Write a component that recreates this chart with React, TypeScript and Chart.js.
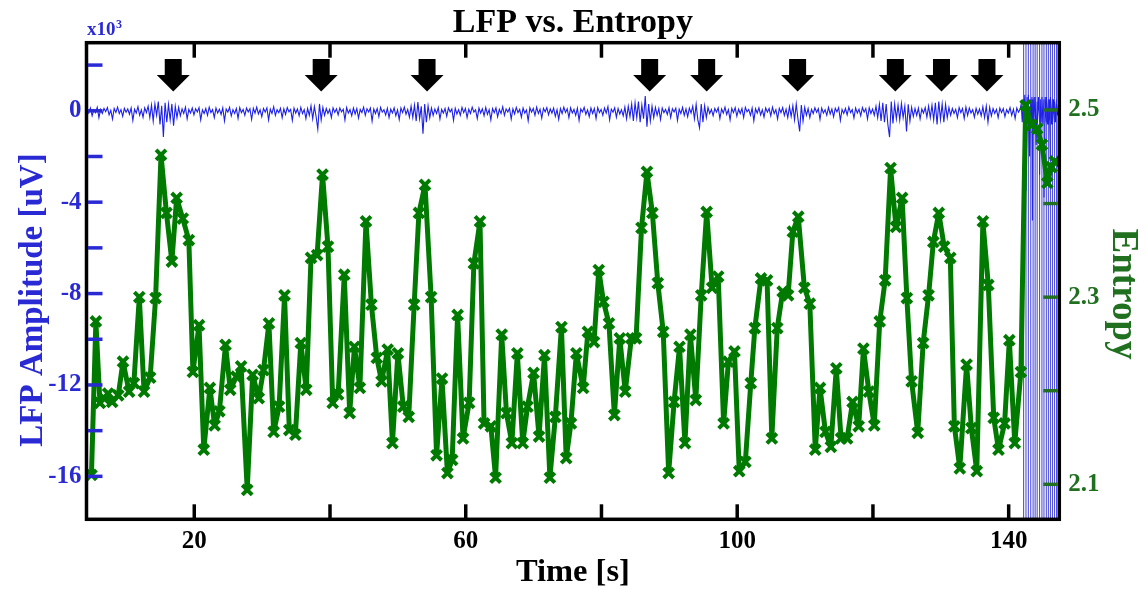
import React, { useEffect, useRef } from 'react';
import { Chart, registerables } from 'chart.js';

Chart.register(...registerables);

const FONT = "'Liberation Serif', 'Times New Roman', serif";
const BLUE = 'rgb(28,32,232)';
const BLUE_FAINT = 'rgba(50,50,210,0.85)';
const BLUE_TEXT = 'rgb(42,42,212)';
const GREEN = 'rgb(0,122,0)';
const GREEN_TEXT = 'rgb(32,112,32)';

// Axis ticks / labels
const X_TICKS = [20, 40, 60, 80, 100, 120, 140];
const X_LABELS = [20, 60, 100, 140];
const LFP_TICKS = [-16, -14, -12, -10, -8, -6, -4, -2, 0, 2];
const LFP_LABELS = [-16, -12, -8, -4, 0];
const ENT_TICKS = [2.1, 2.2, 2.3, 2.4, 2.5];
const ENT_LABELS = [2.1, 2.3, 2.5];

// Event arrows (time, s)
const ARROW_T = [16.9, 38.7, 54.3, 87.1, 95.5, 108.9, 123.3, 130.1, 136.8];

// Entropy series
const ENTROPY_T = [
  4.85, 5.5, 6.1, 6.7, 7.3, 7.9, 8.8, 9.5, 10.4, 11.1, 11.9, 12.6, 13.5, 14.3, 15.1, 15.9, 16.7, 17.4, 18.3, 19.2,
  19.8, 20.7, 21.4, 22.3, 23.0, 23.7, 24.6, 25.3, 26.2, 26.9, 27.8, 28.6, 29.5, 30.2, 31.0, 31.7, 32.5, 33.3, 34.0, 34.9,
  35.7, 36.5, 37.2, 38.1, 38.9, 39.7, 40.4, 41.2, 42.1, 42.9, 43.6, 44.4, 45.3, 46.1, 46.9, 47.6, 48.5, 49.2, 50.0, 50.8,
  51.6, 52.4, 53.1, 54.0, 54.9, 55.7, 56.5, 57.3, 58.0, 58.8, 59.6, 60.5, 61.2, 62.1, 62.7, 63.7, 64.4, 65.3, 66.0, 66.8,
  67.6, 68.4, 69.1, 70.0, 70.8, 71.6, 72.4, 73.2, 74.1, 74.8, 75.5, 76.3, 77.3, 78.0, 78.9, 79.6, 80.3, 81.1, 81.9, 82.7,
  83.5, 84.4, 85.1, 85.9, 86.7, 87.5, 88.3, 89.1, 89.9, 90.7, 91.5, 92.3, 93.1, 93.9, 94.7, 95.5, 96.3, 97.2, 98.0, 98.7,
  99.6, 100.3, 101.2, 102.0, 102.6, 103.5, 104.4, 105.1, 105.9, 106.7, 107.5, 108.2, 109.0, 109.9, 110.7, 111.5, 112.2, 113.0, 113.8, 114.6,
  115.3, 116.2, 117.0, 117.9, 118.6, 119.4, 120.2, 121.0, 121.8, 122.6, 123.4, 124.3, 125.0, 125.7, 126.6, 127.4, 128.2, 128.9, 129.7, 130.5,
  131.4, 132.0, 132.8, 133.8, 134.5, 135.3, 136.2, 137.0, 137.8, 138.5, 139.4, 140.1, 140.9, 141.8, 142.5, 143.4, 144.2, 144.9, 145.7, 146.3,
  146.8,
];
const ENTROPY_V = [
  2.110, 2.274, 2.187, 2.192, 2.197, 2.188, 2.195, 2.231, 2.199, 2.208, 2.300, 2.199, 2.214, 2.299, 2.452, 2.390, 2.338, 2.406, 2.384, 2.361,
  2.220, 2.270, 2.137, 2.203, 2.163, 2.178, 2.249, 2.201, 2.215, 2.226, 2.094, 2.217, 2.192, 2.222, 2.272, 2.156, 2.183, 2.302, 2.158, 2.153,
  2.251, 2.201, 2.342, 2.345, 2.431, 2.354, 2.187, 2.196, 2.324, 2.176, 2.247, 2.203, 2.381, 2.292, 2.235, 2.210, 2.244, 2.144, 2.240, 2.183,
  2.172, 2.292, 2.390, 2.420, 2.300, 2.131, 2.213, 2.112, 2.126, 2.281, 2.149, 2.187, 2.336, 2.381, 2.165, 2.162, 2.107, 2.260, 2.176, 2.144,
  2.240, 2.144, 2.183, 2.219, 2.151, 2.238, 2.107, 2.172, 2.268, 2.128, 2.165, 2.240, 2.203, 2.263, 2.252, 2.329, 2.295, 2.272, 2.174, 2.256,
  2.199, 2.256, 2.256, 2.374, 2.434, 2.390, 2.315, 2.263, 2.112, 2.188, 2.247, 2.144, 2.260, 2.190, 2.302, 2.391, 2.310, 2.322, 2.165, 2.231,
  2.242, 2.114, 2.124, 2.208, 2.267, 2.320, 2.318, 2.149, 2.267, 2.306, 2.302, 2.370, 2.386, 2.310, 2.293, 2.137, 2.203, 2.156, 2.140, 2.224,
  2.149, 2.149, 2.188, 2.162, 2.245, 2.199, 2.163, 2.274, 2.318, 2.438, 2.375, 2.406, 2.299, 2.210, 2.155, 2.251, 2.302, 2.359, 2.390, 2.354,
  2.342, 2.162, 2.117, 2.228, 2.160, 2.114, 2.381, 2.313, 2.171, 2.137, 2.165, 2.254, 2.144, 2.220, 2.505, 2.484, 2.480, 2.463, 2.422, 2.439,
  2.445,
];

// LFP trace (x10^3 uV), sampled every LFP_DT seconds from LFP_T0
const LFP_T0 = 4.2;
const LFP_DT = 0.25;
const LFP_V = [
  0.05, -0.1, 0.12, -0.22, 0.04, -0.08, 0.15, -0.3, 0.06, -0.12, 0.1, -0.04, 0.14, -0.18, 0.02, -0.36, 0.1, -0.07, 0.16, -0.12, 0.05, -0.24, 0.11, -0.06, 0.08,
  -0.15, 0.12, -0.42, 0.07, -0.1, 0.18, -0.2, 0.04, -0.28, 0.13, -0.08, 0.2, -0.3, 0.25, -0.45, 0.3, -0.2, 0.4, -0.6, 0.22, -1.15, 0.35, -0.5, 0.28, -0.4,
  0.3, -0.65, 0.2, -0.3, 0.15, -0.22, 0.08, -0.12, 0.16, -0.35, 0.06, -0.1, 0.12, -0.18, 0.09, -0.05, 0.14, -0.4, 0.04, -0.12, 0.1, -0.2, 0.16, -0.08, 0.05,
  -0.3, 0.12, -0.1, 0.07, -0.16, 0.13, -0.44, 0.08, -0.06, 0.15, -0.22, 0.05, -0.12, 0.1, -0.33, 0.14, -0.08, 0.06, -0.2, 0.12, -0.05, 0.09, -0.38, 0.11, -0.1,
  0.16, -0.14, 0.04, -0.26, 0.1, -0.06, 0.13, -0.4, 0.07, -0.12, 0.18, -0.2, 0.05, -0.08, 0.11, -0.3, 0.09, -0.16, 0.14, -0.05, 0.06, -0.42, 0.12, -0.1, 0.08,
  -0.22, 0.15, -0.12, 0.05, -0.34, 0.1, -0.2, 0.22, -0.35, 0.18, -0.25, -0.8, 0.3, -0.4, 0.15, -0.2, 0.1, -0.12, 0.06, -0.3, 0.13, -0.07, 0.09, -0.18, 0.12,
  -0.05, 0.07, -0.4, 0.14, -0.1, 0.05, -0.22, 0.12, -0.14, 0.1, -0.32, 0.06, -0.08, 0.16, -0.2, 0.09, -0.05, 0.12, -0.45, 0.08, -0.12, 0.1, -0.26, 0.15, -0.06,
  0.05, -0.18, 0.11, -0.3, 0.07, -0.1, 0.13, -0.22, 0.04, -0.38, 0.12, -0.08, 0.16, -0.15, 0.06, -0.28, 0.2, -0.3, 0.25, -0.45, 0.38, -0.35, 0.2, -1.0, 0.3,
  -0.5, 0.22, -0.3, 0.12, -0.2, 0.08, -0.12, 0.14, -0.36, 0.06, -0.1, 0.1, -0.24, 0.13, -0.05, 0.08, -0.42, 0.11, -0.14, 0.05, -0.2, 0.15, -0.08, 0.1, -0.3,
  0.07, -0.12, 0.16, -0.06, 0.04, -0.34, 0.12, -0.1, 0.09, -0.22, 0.14, -0.16, 0.05, -0.4, 0.1, -0.08, 0.13, -0.26, 0.06, -0.12, 0.18, -0.2, 0.08, -0.05, 0.11,
  -0.36, 0.09, -0.14, 0.15, -0.08, 0.06, -0.28, 0.12, -0.1, 0.04, -0.44, 0.13, -0.06, 0.1, -0.2, 0.16, -0.12, 0.07, -0.32, 0.11, -0.05, 0.14, -0.18, 0.08, -0.1,
  0.12, -0.24, 0.05, -0.38, 0.1, -0.12, 0.16, -0.07, 0.09, -0.3, 0.13, -0.1, 0.06, -0.2, 0.11, -0.42, 0.08, -0.05, 0.15, -0.16, 0.04, -0.26, 0.12, -0.12, 0.1,
  -0.34, 0.14, -0.08, 0.06, -0.2, 0.12, -0.1, 0.18, -0.4, 0.07, -0.06, 0.13, -0.28, 0.1, -0.14, 0.05, -0.22, 0.16, -0.35, 0.2, -0.25, 0.3, -0.45, 0.35, -0.3,
  0.4, -0.5, 0.25, -0.35, 0.65, -0.7, 0.3, -0.45, 0.2, -0.3, 0.15, -0.2, 0.1, -0.38, 0.12, -0.08, 0.06, -0.16, 0.14, -0.3, 0.09, -0.05, 0.11, -0.42, 0.07,
  -0.12, 0.15, -0.2, 0.08, -0.26, 0.12, -0.1, 0.2, -0.35, 0.28, -0.4, -0.75, 0.3, -0.5, 0.22, -0.3, 0.14, -0.12, 0.06, -0.22, 0.1, -0.06, 0.13, -0.34, 0.08,
  -0.1, 0.16, -0.16, 0.05, -0.4, 0.11, -0.08, 0.14, -0.24, 0.07, -0.12, 0.1, -0.3, 0.15, -0.05, 0.06, -0.2, 0.12, -0.44, 0.09, -0.1, 0.13, -0.18, 0.04, -0.28,
  0.12, -0.06, 0.1, -0.22, 0.16, -0.12, 0.05, -0.36, 0.11, -0.08, 0.14, -0.2, 0.07, -0.3, 0.18, -0.25, 0.22, -0.4, 0.3, -0.35, -0.9, 0.25, -0.45, 0.15, -0.2,
  0.1, -0.3, 0.06, -0.12, 0.13, -0.07, 0.09, -0.38, 0.12, -0.1, 0.05, -0.2, 0.15, -0.14, 0.08, -0.26, 0.11, -0.05, 0.14, -0.42, 0.06, -0.12, 0.1, -0.18, 0.16,
  -0.08, 0.05, -0.32, 0.12, -0.1, 0.07, -0.22, 0.14, -0.06, 0.1, -0.36, 0.13, -0.12, 0.08, -0.2, 0.2, -0.3, 0.28, -0.45, 0.35, -0.5, 0.3, -0.6, -1.15, 0.4,
  -0.55, 0.3, -0.35, 0.25, -0.4, 0.32, -0.3, 0.2, -0.9, 0.28, -0.45, 0.15, -0.25, 0.1, -0.2, 0.12, -0.35, 0.08, -0.1, 0.14, -0.28, 0.2, -0.3, 0.25, -0.4,
  0.35, -0.6, 0.4, -0.38, 0.3, -0.5, 0.28, -0.3, 0.15, -0.2, 0.1, -0.12, 0.06, -0.3, 0.14, -0.08, 0.1, -0.34, 0.16, -0.2, 0.12, -0.1, 0.05, -0.28, 0.11,
  -0.15, 0.08, -0.22, 0.18, -0.3, 0.2, -0.5, 0.15, -0.22, 0.1, -0.12, 0.06, -0.3, 0.12, -0.08, 0.1, -0.26, 0.05, -0.1, 0.14, -0.2, 0.07, -0.34, 0.12, -0.06,
  0.08,
];

// Saturated tail of the LFP recording (artifact lines running far beyond the axis range)
const TAIL_T = [
  141.85, 142.0,
  142.2, 142.2, 142.2, 142.2, 142.38,
  142.55, 142.55, 142.55, 142.55, 142.72,
  142.9, 142.9, 142.9, 142.9, 143.08,
  143.25, 143.25, 143.25, 143.25, 143.43, 143.5,
  143.6, 143.6, 143.6, 143.6, 143.75,
  143.9, 143.9, 143.9, 143.9, 144.05,
  144.2, 144.2, 144.2, 144.2, 144.38,
  144.55, 144.55, 144.55, 144.55, 144.72,
  144.9, 144.9, 144.9, 144.9, 145.05,
  145.2, 145.2, 145.2, 145.2, 145.38,
  145.55, 145.55, 145.55, 145.55, 145.7,
  145.85, 145.85, 145.85, 145.85, 146.0,
  146.15, 146.15, 146.15, 146.15, 146.3,
  146.45, 146.45, 146.45, 146.45, 146.6,
  146.75, 146.75, 146.75, 146.75, 146.9,
  147.05, 147.05, 147.05, 147.05, 147.2, 147.35,
];
const TAIL_V = [
  0.3, -0.5,
  0.5, 2000, -2000, -0.6, 0.7,
  -0.4, 2000, -2000, -3.5, 0.6,
  -0.6, 2000, -2000, 0.7, -2.0,
  0.5, 2000, -2000, -0.6, 0.6, -4.8,
  0.5, 2000, -2000, -0.5, 0.6,
  -0.5, 2000, -2000, 0.6, -1.5,
  0.4, 2000, -2000, -0.6, 0.6,
  -0.5, 2000, -2000, -2.8, 0.5,
  -0.5, 2000, -2000, 0.6, -0.6,
  0.5, 2000, -2000, -3.8, 0.6,
  -0.5, 2000, -2000, 0.6, -0.6,
  0.5, 2000, -2000, -0.6, 0.5,
  -2.2, 2000, -2000, 0.6, -0.6,
  0.5, 2000, -2000, -0.6, 0.5,
  -0.5, 2000, -2000, 0.4, -0.5,
  0.5, 2000, -2000, 0.3, -0.2, 0.2,
];

const X_MIN = 4.12;
const X_MAX = 147.46;
const LFP_MIN = -17.88;
const LFP_MAX = 2.98;
const ENT_MIN = 2.0626;
const ENT_MAX = 2.5719;

const near = (list: number[], v: number) => list.some((l) => Math.abs(l - v) < 1e-6);

const decorPlugin = {
  id: 'decor',
  afterDraw(chart: any) {
    const { ctx, chartArea: a, scales } = chart;
    const xs = scales.x;
    const ys = scales.y;
    const ys2 = scales.y2;
    const line = (x1: number, y1: number, x2: number, y2: number) => {
      ctx.beginPath();
      ctx.moveTo(x1, y1);
      ctx.lineTo(x2, y2);
      ctx.stroke();
    };
    ctx.save();

    // arrows
    ctx.fillStyle = '#000';
    ARROW_T.forEach((t) => {
      const x = xs.getPixelForValue(t);
      ctx.fillRect(x - 8.5, 59, 17, 16.5);
      ctx.beginPath();
      ctx.moveTo(x - 16.5, 75);
      ctx.lineTo(x + 16.5, 75);
      ctx.lineTo(x, 91.5);
      ctx.closePath();
      ctx.fill();
    });

    // frame
    ctx.lineWidth = 3.5;
    ctx.strokeStyle = '#000';
    ctx.strokeRect(a.left, a.top, a.right - a.left, a.bottom - a.top);

    // inward ticks
    X_TICKS.forEach((v) => {
      const x = xs.getPixelForValue(v);
      line(x, a.bottom, x, a.bottom - 15);
      line(x, a.top, x, a.top + 15);
    });
    ctx.strokeStyle = BLUE_TEXT;
    LFP_TICKS.forEach((v) => {
      const y = ys.getPixelForValue(v);
      line(a.left + 1.5, y, a.left + 16, y);
    });
    ctx.strokeStyle = GREEN_TEXT;
    ENT_TICKS.forEach((v) => {
      const y = ys2.getPixelForValue(v);
      line(a.right - 1.5, y, a.right - 16, y);
    });

    // titles
    ctx.fillStyle = '#000';
    ctx.textAlign = 'center';
    ctx.textBaseline = 'alphabetic';
    ctx.font = `bold 34px ${FONT}`;
    ctx.fillText('LFP vs. Entropy', (a.left + a.right) / 2, 32);
    ctx.font = `bold 32.5px ${FONT}`;
    ctx.fillText('Time [s]', (a.left + a.right) / 2, 581);

    ctx.fillStyle = BLUE_TEXT;
    ctx.textAlign = 'left';
    ctx.font = `bold 19px ${FONT}`;
    ctx.fillText('x10', 87, 35);
    const w = ctx.measureText('x10').width;
    ctx.font = `bold 12px ${FONT}`;
    ctx.fillText('3', 87 + w + 0.5, 28);

    ctx.save();
    ctx.translate(42, 300);
    ctx.rotate(-Math.PI / 2);
    ctx.textAlign = 'center';
    ctx.font = `bold 33px ${FONT}`;
    ctx.fillStyle = BLUE_TEXT;
    ctx.fillText('LFP Amplitude [uV]', 0, 0);
    ctx.restore();

    ctx.save();
    ctx.translate(1113, 294);
    ctx.rotate(Math.PI / 2);
    ctx.textAlign = 'center';
    ctx.font = `bold 37px ${FONT}`;
    ctx.fillStyle = GREEN_TEXT;
    ctx.fillText('Entropy', 0, 0);
    ctx.restore();

    ctx.restore();
  },
};

export default function App() {
  const ref = useRef<HTMLCanvasElement | null>(null);

  useEffect(() => {
    if (!ref.current) return;
    const lfpData = LFP_V.map((v, i) => ({ x: LFP_T0 + i * LFP_DT, y: v })).concat(
      TAIL_T.map((t, i) => ({ x: t, y: TAIL_V[i] }))
    );
    const entData = ENTROPY_T.map((t, i) => ({ x: t, y: ENTROPY_V[i] }));
    const tickFont = { family: FONT, size: 25, weight: 'bold' as const };

    const chart = new Chart(ref.current, {
      type: 'line',
      data: {
        datasets: [
          {
            label: 'Entropy',
            data: entData,
            xAxisID: 'x',
            yAxisID: 'y2',
            borderColor: GREEN,
            backgroundColor: GREEN,
            borderWidth: 5,
            borderJoinStyle: 'round',
            borderCapStyle: 'round',
            pointStyle: 'crossRot',
            pointRadius: 7,
            pointBorderWidth: 4,
            pointBorderColor: GREEN,
            pointBackgroundColor: GREEN,
            tension: 0,
            order: 0,
          },
          {
            label: 'LFP',
            data: lfpData,
            xAxisID: 'x',
            yAxisID: 'y',
            borderColor: BLUE,
            borderWidth: 1.1,
            pointRadius: 0,
            tension: 0,
            order: 1,
            segment: {
              borderColor: (c: any) =>
                Math.abs(c.p0.parsed.y) > 100 || Math.abs(c.p1.parsed.y) > 100 ? BLUE_FAINT : undefined,
            },
          },
        ],
      },
      options: {
        responsive: false,
        animation: false,
        layout: { padding: { top: 42.7, left: 0, right: 0, bottom: 0 } },
        plugins: { legend: { display: false }, tooltip: { enabled: false }, title: { display: false } },
        scales: {
          x: {
            type: 'linear',
            position: 'bottom',
            min: X_MIN,
            max: X_MAX,
            grid: { display: false, drawTicks: false },
            border: { display: false },
            afterBuildTicks: (s: any) => {
              s.ticks = X_TICKS.map((v) => ({ value: v }));
            },
            afterFit: (s: any) => {
              s.height = 590 - 519.3;
            },
            ticks: {
              autoSkip: false,
              maxRotation: 0,
              padding: 7,
              color: '#000',
              font: tickFont,
              callback: (v: any) => (near(X_LABELS, Number(v)) ? String(v) : ''),
            },
          },
          y: {
            type: 'linear',
            position: 'left',
            min: LFP_MIN,
            max: LFP_MAX,
            grid: { display: false, drawTicks: false },
            border: { display: false },
            afterBuildTicks: (s: any) => {
              s.ticks = LFP_TICKS.map((v) => ({ value: v }));
            },
            afterFit: (s: any) => {
              s.width = 86.5;
            },
            ticks: {
              autoSkip: false,
              padding: 5,
              color: BLUE_TEXT,
              font: tickFont,
              callback: (v: any) => (near(LFP_LABELS, Number(v)) ? String(v) : ''),
            },
          },
          y2: {
            type: 'linear',
            position: 'right',
            min: ENT_MIN,
            max: ENT_MAX,
            grid: { display: false, drawTicks: false },
            border: { display: false },
            afterBuildTicks: (s: any) => {
              s.ticks = ENT_TICKS.map((v) => ({ value: v }));
            },
            afterFit: (s: any) => {
              s.width = 1147 - 1059.3;
            },
            ticks: {
              autoSkip: false,
              padding: 9,
              color: GREEN_TEXT,
              font: tickFont,
              callback: (v: any) => (near(ENT_LABELS, Number(v)) ? Number(v).toFixed(1) : ''),
            },
          },
        },
      },
      plugins: [decorPlugin],
    });
    return () => chart.destroy();
  }, []);

  return (
    <div style={{ position: 'absolute', left: 0, top: 0, width: 1147, height: 590, background: '#fff' }}>
      <canvas ref={ref} width={1147} height={590} style={{ display: 'block', width: 1147, height: 590 }} />
    </div>
  );
}
